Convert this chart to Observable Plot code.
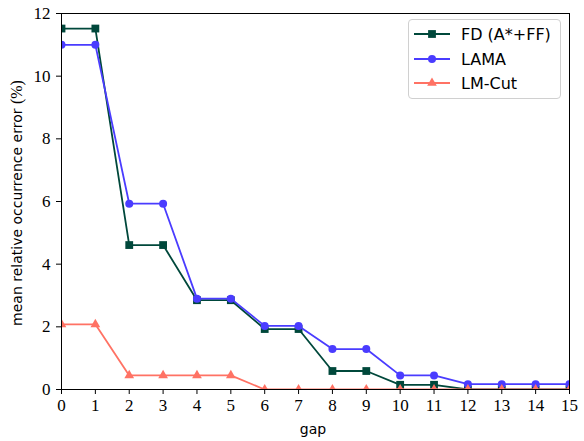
<!DOCTYPE html>
<html>
<head>
<meta charset="utf-8">
<script src="https://cdn.jsdelivr.net/npm/d3@7"></script>
<script src="https://cdn.jsdelivr.net/npm/@observablehq/plot@0.6"></script>
<style>
  html, body { margin: 0; padding: 0; background: #fff; }
  #wrap { position: relative; width: 584px; height: 441px; }
  #legend { position: absolute; left: 408px; top: 19px; width: 153px; height: 80px;
    border: 1px solid #d0d0d0; border-radius: 4px; background: rgba(255,255,255,0.85);
    font-family: "DejaVu Sans", sans-serif; font-size: 16px; color: #000; box-sizing: border-box; }
  .row { position: absolute; left: 5px; height: 20px; display: flex; align-items: center; white-space: nowrap; }
  .row span { margin-left: 11px; }
</style>
</head>
<body>
<div id="wrap"><div id="legend"></div></div>
<script>
const gaps = [0, 1, 2, 3, 4, 5, 6, 7, 8, 9, 10, 11, 12, 13, 14, 15];
const fdValues = [11.52, 11.52, 4.61, 4.61, 2.85, 2.85, 1.93, 1.93, 0.59, 0.59, 0.15, 0.15, 0, 0, 0, 0];
const lamaValues = [11.0, 11.0, 5.93, 5.93, 2.9, 2.9, 2.03, 2.03, 1.29, 1.29, 0.45, 0.45, 0.17, 0.17, 0.17, 0.17];
const lmcutValues = [2.08, 2.08, 0.45, 0.45, 0.45, 0.45, 0, 0, 0, 0, 0, 0, 0, 0, 0, 0];
const seriesNames = ["FD (A*+FF)", "LAMA", "LM-Cut"];
const seriesColors = ["#00483b", "#4a3cff", "#ff7264"];
const seriesSymbols = ["square", "circle", "triangle"];
const seriesR = [4.4, 4, 3.6];
const yTicks = [0, 2, 4, 6, 8, 10, 12];

const allValues = [fdValues, lamaValues, lmcutValues];
const series = seriesNames.map((name, i) => gaps.map((g, j) => ({gap: g, value: allValues[i][j], series: name})));

const marks = [];
series.forEach((data, i) => {
  marks.push(Plot.line(data, {x: "gap", y: "value", stroke: seriesColors[i], strokeWidth: 1.8, clip: true}));
  marks.push(Plot.dot(data, {x: "gap", y: "value", fill: seriesColors[i], symbol: seriesSymbols[i], r: seriesR[i], clip: true}));
});

const serif = "Liberation Serif";
const chart = Plot.plot({
  width: 584,
  height: 441,
  marginLeft: 61,
  marginRight: 15,
  marginTop: 13,
  marginBottom: 52,
  style: {fontFamily: serif, fontSize: "17px", color: "#000", background: "#fff"},
  x: {domain: [0, 15]},
  y: {domain: [0, 12]},
  marks: [
    ...marks,
    Plot.axisX({ticks: gaps, tickSize: 5, tickPadding: 4, label: null, fontSize: 17, strokeWidth: 1}),
    Plot.axisY({ticks: yTicks, tickSize: 5, tickPadding: 6, label: null, fontSize: 17, strokeWidth: 1}),
    Plot.frame({stroke: "#000", strokeWidth: 1})
  ]
});
document.getElementById("wrap").prepend(chart);

const svg = d3.select(chart);
svg.append("text")
  .attr("x", 313).attr("y", 434)
  .attr("text-anchor", "middle")
  .attr("font-family", "DejaVu Sans").attr("font-size", 14)
  .text("gap");
const yl = svg.append("text")
  .attr("transform", "translate(22, 203) rotate(-90)")
  .attr("text-anchor", "middle")
  .attr("font-family", "DejaVu Sans").attr("font-size", 14);
yl.append("tspan").text("mean relative occurrence error ");
yl.append("tspan").attr("font-family", serif).attr("font-size", 16).text("(%)");

// legend
const legend = document.getElementById("legend");
const rowTops = [4, 29, 53];
seriesNames.forEach((name, i) => {
  const row = document.createElement("div");
  row.className = "row";
  row.style.top = rowTops[i] + "px";
  const s = d3.create("svg").attr("width", 36).attr("height", 20);
  s.append("line").attr("x1", 0).attr("x2", 36).attr("y1", 10).attr("y2", 10)
    .attr("stroke", seriesColors[i]).attr("stroke-width", 1.8);
  s.append("path").attr("transform", "translate(18,10)")
    .attr("d", d3.symbol(seriesSymbols[i] === "square" ? d3.symbolSquare : seriesSymbols[i] === "circle" ? d3.symbolCircle : d3.symbolTriangle, Math.PI * seriesR[i] * seriesR[i])())
    .attr("fill", seriesColors[i]);
  row.appendChild(s.node());
  const t = document.createElement("span");
  t.textContent = name;
  row.appendChild(t);
  legend.appendChild(row);
});
</script>
</body>
</html>
